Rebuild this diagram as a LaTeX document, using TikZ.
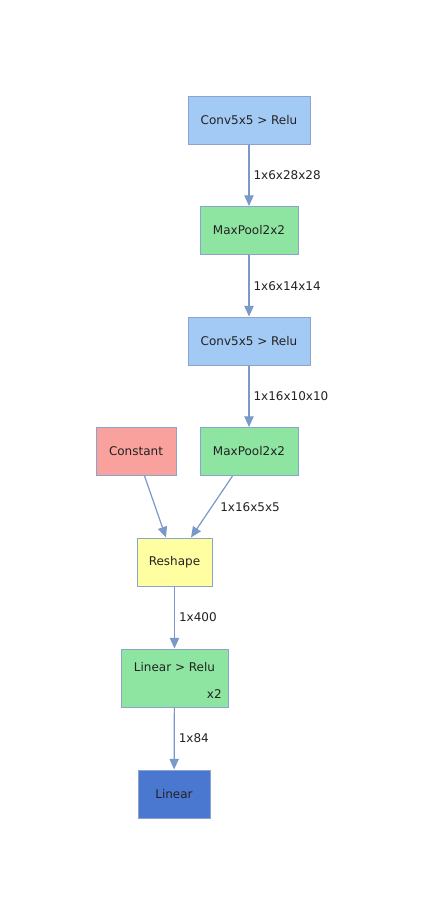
\documentclass[tikz,border=0pt]{standalone}
\usepackage{fontspec}
\setmainfont{DejaVu Sans}
\usetikzlibrary{arrows.meta}
\definecolor{ink}{RGB}{34,34,34}
\definecolor{wire}{RGB}{122,152,200}
\definecolor{rim}{RGB}{138,164,204}
\definecolor{convfill}{RGB}{163,201,245}
\definecolor{poolfill}{RGB}{142,229,161}
\definecolor{constfill}{RGB}{248,161,157}
\definecolor{shapefill}{RGB}{255,254,161}
\definecolor{linfill}{RGB}{74,120,208}

\begin{document}
\begin{tikzpicture}[x=0.75pt, y=-0.75pt, font=\fontsize{9}{11}\selectfont,
  layer/.style={draw=rim, line width=0.75pt, inner sep=0pt, minimum height=36pt, text=ink},
  edge/.style={wire, line width=0.9pt, -{Triangle[length=8pt, width=7pt]}},
  lbl/.style={anchor=west, text=ink, inner sep=0pt}]
  \useasboundingbox (0,0) rectangle (427,915);
  % layers
  \node[layer, fill=convfill, minimum width=91.5pt] (conv1) at (249,120) {Conv5x5 > Relu};
  \node[layer, fill=poolfill, minimum width=73.5pt] (pool1) at (249,230.5) {MaxPool2x2};
  \node[layer, fill=convfill, minimum width=91.5pt] (conv2) at (249,341) {Conv5x5 > Relu};
  \node[layer, fill=constfill, minimum width=60pt] (const) at (136,451.5) {Constant};
  \node[layer, fill=poolfill, minimum width=73.5pt] (pool2) at (249,451.5) {MaxPool2x2};
  \node[layer, fill=shapefill, minimum width=56.25pt] (reshape) at (174.5,562) {Reshape};
  \node[layer, fill=poolfill, minimum width=80.25pt, minimum height=43.5pt] (fc1) at (174.5,678) {};
  \node[text=ink, inner sep=0pt] (fc1txt) at (174.5,667) {Linear > Relu};
  \node[text=ink, inner sep=0pt, anchor=east] (fc1rep) at (222,694) {x2};
  \node[layer, fill=linfill, minimum width=54pt] (fc2) at (174,794) {Linear};
  % connectors
  \draw[edge] (conv1) -- node[lbl, xshift=3pt] (s1) {1x6x28x28} (pool1);
  \draw[edge] (pool1) -- node[lbl, xshift=3pt] (s2) {1x6x14x14} (conv2);
  \draw[edge] (conv2) -- node[lbl, xshift=3pt] (s3) {1x16x10x10} (pool2);
  \draw[edge] (const) -- (reshape);
  \draw[edge] (pool2) -- node[lbl, xshift=6pt] (s4) {1x16x5x5} (reshape);
  \draw[edge] (reshape) -- node[lbl, xshift=3pt] (s5) {1x400} (fc1);
  \draw[edge] (fc1) -- node[lbl, xshift=3pt] (s6) {1x84} (fc2);
\end{tikzpicture}
\end{document}
